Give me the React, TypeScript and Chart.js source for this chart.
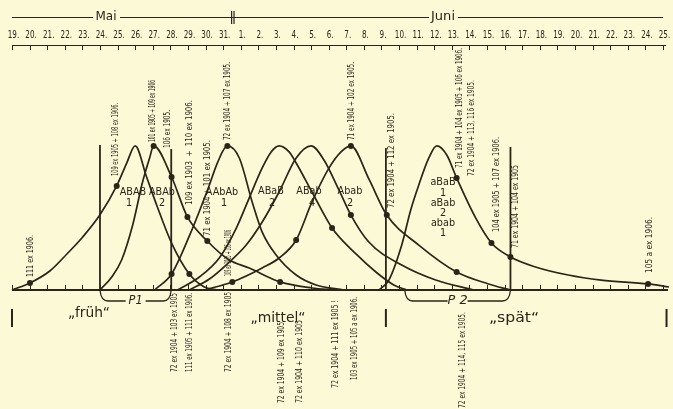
import React, { useEffect, useRef } from "react";
import { Chart, registerables } from "chart.js";
Chart.register(...registerables);

const INK = "#2a2419";
const PAPER = "#fcf9d7";
const FONT = '"DejaVu Sans", sans-serif';

// x = day (19 = 19. Mai, 32 = 1. Juni ... 56 = 25. Juni), y = relative frequency (peak = 100)
const X_MIN = 19;
const X_MAX = 56.34;
const Y_MAX = 170;

const TICK_LABELS = [
  "19.", "20.", "21.", "22.", "23.", "24.", "25.", "26.", "27.", "28.", "29.", "30.", "31.",
  "1.", "2.", "3.", "4.", "5.", "6.", "7.", "8.", "9.", "10.", "11.", "12.", "13.", "14.", "15.",
  "16.", "17.", "18.", "19.", "20.", "21.", "22.", "23.", "24.", "25.",
];

const CURVE_ABAB_1 = [
  [19.0, 0], [20.02, 4.9], [21.15, 13.2], [22.12, 25.0], [23.02, 36.8], [23.99, 52.0],
  [24.95, 72.2], [25.52, 88.1], [26.0, 100], [26.65, 78.4], [27.22, 59.0], [28.07, 32.6],
  [29.08, 11.1], [29.93, 2.1], [30.67, 0],
];
const CURVE_ABAb_2 = [
  [24.0, 0], [24.67, 9.0], [25.23, 20.8], [25.86, 45.1], [26.42, 74.9], [26.82, 91.6],
  [27.05, 100], [28.07, 78.4], [28.97, 50.7], [30.1, 34.0], [31.35, 20.8], [32.48, 15.3],
  [34.24, 5.6], [36.05, 1.4], [37.3, 0],
];
const CURVE_AAbAb_1 = [
  [27.1, 0], [28.07, 11.1], [29.08, 37.5], [30.22, 72.9], [30.67, 88.1], [31.24, 100],
  [31.92, 91.6], [32.65, 61.1], [33.22, 40.2], [34.01, 24.3], [35.15, 10.4], [36.28, 3.5],
  [37.87, 0],
];
const CURVE_ABaB_2 = [
  [28.41, 0], [29.65, 9.0], [30.78, 22.2], [31.75, 43.0], [32.48, 63.8], [33.22, 84.7],
  [33.73, 95.8], [34.18, 100], [34.75, 95.8], [35.15, 88.1], [36.05, 68.0], [37.19, 43.0],
  [38.55, 25.0], [39.68, 12.5], [40.7, 3.5], [41.44, 0],
];
const CURVE_ABab_4 = [
  [29.08, 0], [30.22, 7.6], [31.35, 19.4], [32.31, 31.2], [33.22, 47.2], [34.18, 68.0],
  [35.15, 91.6], [36.0, 100], [36.73, 90.2], [37.58, 69.4], [38.26, 52.0], [39.28, 33.3],
  [41.15, 17.3], [43.08, 6.9], [45.23, 0],
];
const CURVE_Abab_2 = [
  [29.93, 0], [31.52, 5.6], [33.22, 15.3], [34.18, 22.2], [35.15, 34.7], [36.05, 61.1],
  [37.02, 84.7], [37.7, 95.8], [38.26, 100], [39.28, 77.1], [40.3, 52.0], [42.12, 31.2],
  [44.27, 12.5], [46.08, 4.2], [47.33, 0],
];
const CURVE_aBaB_1 = [
  [39.85, 0], [40.42, 6.9], [41.15, 31.2], [41.66, 55.5], [42.12, 72.9], [42.69, 91.6],
  [43.14, 100], [43.71, 93.7], [44.27, 77.7], [45.35, 50.0], [46.25, 32.6], [47.33, 22.9],
  [48.75, 16.0], [50.61, 10.4], [52.48, 6.9], [55.15, 4.2], [56.34, 2.1],
];

const CURVES = [CURVE_ABAB_1, CURVE_ABAb_2, CURVE_AAbAb_1, CURVE_ABaB_2, CURVE_ABab_4, CURVE_Abab_2, CURVE_aBaB_1];

// marked observations: [curve index, point index]
const MARKED = [
  [0, 1], [0, 6], [0, 12],
  [1, 6], [1, 7], [1, 8], [1, 9], [1, 12],
  [2, 1], [2, 5],
  [3, 11],
  [4, 10],
  [5, 1], [5, 4], [5, 8], [5, 10], [5, 12],
  [6, 8], [6, 10], [6, 11], [6, 15],
];

// vertical limits: [day, height]
const LIMITS = [[24.0, 100.6], [28.05, 97.8], [40.25, 98.5], [47.33, 99.2]];
// brackets P1 / P2: [from day, to day, label]
const PERIODS = [[24.0, 28.05, "P1"], [41.32, 47.33, "P 2"]];
// short marks below the axis
const MARKS = [19.0, 40.25, 56.2];

const MONTHS = [
  { t: "Mai", x: 106, w: 21 },
  { t: "Juni", x: 443, w: 24 },
];
const MONTH_LINES = [[12, 93], [120, 429], [458, 663]];

const GENO_LABELS = [
  { t: "ABAB", x: 133, y: 192 }, { t: "1", x: 129, y: 203 },
  { t: "ABAb", x: 162, y: 192 }, { t: "2", x: 162, y: 203 },
  { t: "AAbAb", x: 222, y: 192 }, { t: "1", x: 224, y: 203 },
  { t: "ABaB", x: 271, y: 191 }, { t: "2", x: 272, y: 203 },
  { t: "ABab", x: 309, y: 191 }, { t: "4", x: 312, y: 203 },
  { t: "Abab", x: 350, y: 191 }, { t: "2", x: 350, y: 203 },
  { t: "aBaB", x: 443, y: 182 }, { t: "1", x: 443, y: 193 },
  { t: "aBab", x: 443, y: 203 }, { t: "2", x: 443, y: 213 },
  { t: "abab", x: 443, y: 223 }, { t: "1", x: 443, y: 233 },
];

const ROT_NOTES = [
  { t: "111 ex 1906.", x: 31, y1: 235, y2: 277 },
  { t: "109 ex 1905 + 108 ex 1906.", x: 116, y1: 103, y2: 176 },
  { t: "101 ex 1905 + 109 ex 1906", x: 153, y1: 80, y2: 142 },
  { t: "106 ex 1905.", x: 168, y1: 110, y2: 148 },
  { t: "109 ex 1903  +  110 ex 1906.", x: 190, y1: 100, y2: 205 },
  { t: "71 ex 1904 + 101 ex 1905.", x: 208, y1: 140, y2: 236 },
  { t: "72 ex 1904 + 107 ex 1905.", x: 228, y1: 62, y2: 140 },
  { t: "109 ex 1905 + 106 ex 1906", x: 229, y1: 230, y2: 276 },
  { t: "71 ex 1904 + 102 ex 1905.", x: 352, y1: 62, y2: 140 },
  { t: "72 ex 1904 + 112 ex 1905.", x: 392, y1: 113, y2: 208 },
  { t: "71 ex 1904 + 104 ex 1905 + 106 ex 1906.", x: 460, y1: 48, y2: 168 },
  { t: "72 ex 1904 + 113, 116 ex 1905.", x: 472, y1: 80, y2: 176 },
  { t: "104 ex 1905 + 107 ex 1906.", x: 497, y1: 137, y2: 232 },
  { t: "71 ex 1904 + 104 ex 1905", x: 516, y1: 165, y2: 248 },
  { t: "105 a ex 1906.", x: 650, y1: 217, y2: 273 },
  { t: "72 ex 1904 + 103 ex 1905", x: 175, y1: 293, y2: 372 },
  { t: "111 ex 1905 + 111 ex 1906.", x: 190, y1: 293, y2: 372 },
  { t: "72 ex 1904 + 108 ex 1905", x: 229, y1: 292, y2: 372 },
  { t: "72 ex 1904 + 109 ex 1905", x: 282, y1: 322, y2: 403 },
  { t: "72 ex 1904 + 110 ex 1905", x: 300, y1: 320, y2: 403 },
  { t: "72 ex 1904 + 111 ex 1905 !", x: 336, y1: 300, y2: 388 },
  { t: "103 ex 1905 + 105 a ex 1906.", x: 355, y1: 297, y2: 380 },
  { t: "72 ex 1904 + 114, 115 ex 1905.", x: 463, y1: 312, y2: 408 },
];

const PHASES = [
  { t: "\u201Efr\u00FCh\u201C", x: 89, y: 313, w: 42 },
  { t: "\u201Emittel\u201C", x: 278, y: 318, w: 55 },
  { t: "\u201Esp\u00E4t\u201C", x: 514, y: 318, w: 50 },
];

function fitText(ctx: CanvasRenderingContext2D, text: string, cx: number, cy: number, len: number, size: number, vertical: boolean, italic = false) {
  ctx.save();
  ctx.font = `${italic ? "italic " : ""}${size}px ${FONT}`;
  const w = ctx.measureText(text).width || 1;
  ctx.translate(cx, cy);
  if (vertical) ctx.rotate(-Math.PI / 2);
  ctx.scale(len / w, 1);
  ctx.textAlign = "center";
  ctx.textBaseline = "middle";
  ctx.fillText(text, 0, 0);
  ctx.restore();
}

function scaledText(ctx: CanvasRenderingContext2D, text: string, cx: number, cy: number, size: number, sx: number) {
  ctx.save();
  ctx.font = `${size}px ${FONT}`;
  ctx.translate(cx, cy);
  ctx.scale(sx, 1);
  ctx.textAlign = "center";
  ctx.textBaseline = "middle";
  ctx.fillText(text, 0, 0);
  ctx.restore();
}

const decoPlugin = {
  id: "deco",
  afterDatasetsDraw(chart: any) {
    const ctx: CanvasRenderingContext2D = chart.ctx;
    const xs = chart.scales.x;
    const ys = chart.scales.y;
    const X = (v: number) => xs.getPixelForValue(v);
    const Y = (v: number) => ys.getPixelForValue(v);
    const base = Y(0);
    const top = Y(Y_MAX);
    ctx.save();
    ctx.strokeStyle = INK;
    ctx.fillStyle = INK;
    ctx.lineCap = "butt";

    // baseline with ticks
    ctx.lineWidth = 2;
    ctx.beginPath();
    ctx.moveTo(X(X_MIN), base);
    ctx.lineTo(X(X_MAX) - 1, base);
    ctx.stroke();
    ctx.lineWidth = 1;
    TICK_LABELS.forEach((_, i) => {
      const px = Math.round(X(X_MIN + i)) + 0.5;
      ctx.beginPath();
      ctx.moveTo(px, base);
      ctx.lineTo(px, base - 5);
      ctx.stroke();
    });

    // top line with ticks
    ctx.lineWidth = 1;
    ctx.beginPath();
    ctx.moveTo(X(X_MIN), top + 0.5);
    ctx.lineTo(X(X_MAX) - 3, top + 0.5);
    ctx.stroke();
    TICK_LABELS.forEach((lab, i) => {
      const px = X(X_MIN + i);
      ctx.beginPath();
      ctx.moveTo(Math.round(px) + 0.5, top);
      ctx.lineTo(Math.round(px) + 0.5, top + 5);
      ctx.stroke();
      scaledText(ctx, lab, px + 1.5, top - 10, 10, 0.72);
    });

    // month row
    ctx.lineWidth = 1;
    MONTH_LINES.forEach(([a, b]) => {
      ctx.beginPath();
      ctx.moveTo(a, top - 27.5);
      ctx.lineTo(b, top - 27.5);
      ctx.stroke();
    });
    MONTHS.forEach((m) => fitText(ctx, m.t, m.x, top - 28, m.w, 13, false));
    const sep = X(31.55);
    ctx.lineWidth = 1.2;
    [-1.2, 1.2].forEach((o) => {
      ctx.beginPath();
      ctx.moveTo(sep + o, top - 34);
      ctx.lineTo(sep + o, top - 21);
      ctx.stroke();
    });

    // period brackets
    ctx.lineWidth = 1.3;
    PERIODS.forEach(([a, b, lab]) => {
      const xa = X(a as number);
      const xb = X(b as number);
      const yb = base + 11;
      const mid = (xa + xb) / 2;
      ctx.beginPath();
      ctx.moveTo(xa, base);
      ctx.quadraticCurveTo(xa + 1, yb, xa + 8, yb);
      ctx.lineTo(mid - 10, yb);
      ctx.moveTo(mid + 10, yb);
      ctx.lineTo(xb - 8, yb);
      ctx.quadraticCurveTo(xb - 1, yb, xb, base);
      ctx.stroke();
      fitText(ctx, lab as string, mid, yb, (lab as string).length > 2 ? 20 : 14, 12, false, true);
    });

    // short marks below the axis
    ctx.lineWidth = 2;
    MARKS.forEach((d) => {
      ctx.beginPath();
      ctx.moveTo(X(d), base + 19);
      ctx.lineTo(X(d), base + 37);
      ctx.stroke();
    });

    // genotype labels
    GENO_LABELS.forEach((g) => scaledText(ctx, g.t, g.x, g.y, 11, 0.88));
    // rotated notes
    ROT_NOTES.forEach((n) => fitText(ctx, n.t, n.x, (n.y1 + n.y2) / 2, n.y2 - n.y1, 8, true));
    // phases
    PHASES.forEach((p) => fitText(ctx, p.t, p.x, p.y, p.w, 14, false));
    ctx.restore();
  },
};

export default function App() {
  const ref = useRef<HTMLCanvasElement>(null);
  useEffect(() => {
    if (!ref.current) return;
    const curveSets = CURVES.map((c) => ({
      data: c.map(([x, y]) => ({ x, y })),
      showLine: true,
      borderColor: INK,
      borderWidth: 1.7,
      pointRadius: 0,
      cubicInterpolationMode: "monotone" as const,
      clip: false as any,
    }));
    const limitSets = LIMITS.map(([d, h]) => ({
      data: [{ x: d, y: 0 }, { x: d, y: h }],
      showLine: true,
      borderColor: INK,
      borderWidth: 1.8,
      pointRadius: 0,
      clip: false as any,
    }));
    const dotSet = {
      data: MARKED.map(([ci, pi]) => ({ x: CURVES[ci][pi][0], y: CURVES[ci][pi][1] })),
      showLine: false,
      pointRadius: 3,
      pointBackgroundColor: INK,
      pointBorderColor: INK,
      pointBorderWidth: 0,
      clip: false as any,
    };
    const chart = new Chart(ref.current, {
      type: "scatter",
      data: { datasets: [...curveSets, ...limitSets, dotSet] as any },
      options: {
        animation: false,
        responsive: false,
        events: [],
        layout: { padding: { left: 12, right: 2, top: 45, bottom: 119 } },
        plugins: { legend: { display: false }, tooltip: { enabled: false } },
        scales: {
          x: { type: "linear", min: X_MIN, max: X_MAX, display: false },
          y: { type: "linear", min: 0, max: Y_MAX, display: false },
        },
      },
      plugins: [decoPlugin],
    });
    return () => chart.destroy();
  }, []);
  return (
    <div style={{ position: "fixed", left: 0, top: 0, width: 673, height: 409, background: PAPER }}>
      <canvas ref={ref} width={673} height={409} style={{ display: "block" }} />
    </div>
  );
}
